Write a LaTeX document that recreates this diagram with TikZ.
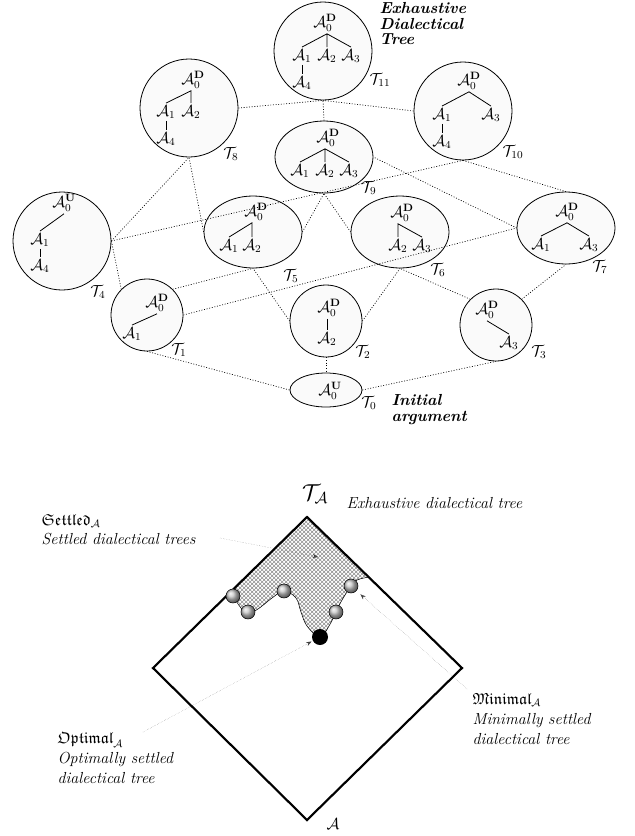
\documentclass[tikz,border=0pt,12pt]{standalone}
\usepackage{amsmath,amssymb}
\usetikzlibrary{arrows.meta,shapes.geometric,patterns}
\tikzset{tnode/.style={ellipse,draw,semithick,fill=black!2,inner sep=0pt},
  argm/.style={inner sep=1.5pt},
  tline/.style={semithick},
  lat/.style={line width=0.5pt,dash pattern=on 0.7pt off 1.3pt},
  lbl/.style={inner sep=1pt},
  ptr/.style={densely dotted,very thin,black!75,-{Stealth[length=4pt,width=3pt]}},
  sph/.style={circle,draw,thin,shading=ball,ball color=gray!45,minimum size=10.5pt,inner sep=0pt}}
\newcommand{\argA}[1]{$\mathcal{A}_{#1}$}
\newcommand{\rootD}{$\mathcal{A}_0^{\mathbf{D}}$}
\newcommand{\rootU}{$\mathcal{A}_0^{\mathbf{U}}$}
\begin{document}
\begin{tikzpicture}[x=0.75pt,y=-0.75pt]
\useasboundingbox (0,0) rectangle (635,836);
% lattice of dialectical trees
\foreach \n/\x/\y/\w/\h in {11/323/51/73.5/73.5, 8/189/108/73.5/73.5, 10/463/111/73.5/73.5,
  9/324/157/73.5/54, 4/62/241/73.5/73.5, 5/253/232/73.5/54, 6/400/232/73.5/54, 7/566/228/73.5/54,
  1/147/315/54/54, 2/326/321/54/54, 3/496/325/54/54, 0/326/390/54/25.5}
  \node[tnode,minimum width=\w pt,minimum height=\h pt] (t\n) at (\x,\y) {};
\foreach \n/\x/\y in {11/380/80, 8/231/154, 10/513/152, 9/369/188, 4/98/292, 5/291/276,
  6/438/270, 7/600/267, 1/179/350, 2/363/352, 3/539/352, 0/369/403}
  \node[lbl] (l\n) at (\x,\y) {$\mathcal{T}_{\n}$};
% T11
\node[argm] (t11r) at (325,23) {\rootD};
\node[argm] (t11a1) at (302,56) {\argA1}; \node[argm] (t11a2) at (327,56) {\argA2};
\node[argm] (t11a3) at (351,56) {\argA3}; \node[argm] (t11a4) at (302,83) {\argA4};
\draw[tline] (t11a1.north) -- (t11a2.north |- t11r.south) -- (t11a3.north) (t11a2.north |- t11r.south) -- (t11a2.north);
\draw[tline] (t11a1.south) -- (t11a4.north);
% T8
\node[argm] (t8r) at (193,80) {\rootD};
\node[argm] (t8a1) at (166,112) {\argA1}; \node[argm] (t8a2) at (191,112) {\argA2};
\node[argm] (t8a4) at (166,139) {\argA4};
\draw[tline] (t8a1.north) -- (t8a2.north |- t8r.south) -- (t8a2.north);
\draw[tline] (t8a1.south) -- (t8a4.north);
% T10
\node[argm] (t10r) at (469,81) {\rootD};
\node[argm] (t10a1) at (442,115) {\argA1}; \node[argm] (t10a3) at (491,115) {\argA3};
\node[argm] (t10a4) at (442,142) {\argA4};
\draw[tline] (t10a1.north) -- (t10r.south) -- (t10a3.north);
\draw[tline] (t10a1.south) -- (t10a4.north);
% T9
\node[argm] (t9r) at (328,138) {\rootD};
\node[argm] (t9a1) at (300,171) {\argA1}; \node[argm] (t9a2) at (325,171) {\argA2};
\node[argm] (t9a3) at (349,171) {\argA3};
\draw[tline] (t9a1.north) -- (t9a2.north |- t9r.south) -- (t9a3.north) (t9a2.north |- t9r.south) -- (t9a2.north);
% T4
\node[argm] (t4r) at (64,203) {\rootU};
\node[argm] (t4a1) at (40,240) {\argA1}; \node[argm] (t4a4) at (40,266) {\argA4};
\draw[tline] (t4a1.north) -- (t4r.south);
\draw[tline] (t4a1.south) -- (t4a4.north);
% T5, T6, T7
\node[argm] (t5r) at (256,212) {\rootD};
\node[argm] (t5a1) at (229,246) {\argA1}; \node[argm] (t5a2) at (252,246) {\argA2};
\draw[tline] (t5a1.north) -- (t5a2.north |- t5r.south) -- (t5a2.north);
\node[argm] (t6r) at (402,213) {\rootD};
\node[argm] (t6a2) at (398,246) {\argA2}; \node[argm] (t6a3) at (422,246) {\argA3};
\draw[tline] (t6a2.north) -- (t6a2.north |- t6r.south) -- (t6a3.north);
\node[argm] (t7r) at (567,212) {\rootD};
\node[argm] (t7a1) at (541,245) {\argA1}; \node[argm] (t7a3) at (589,245) {\argA3};
\draw[tline] (t7a1.north) -- (t7r.south) -- (t7a3.north);
% T1, T2, T3, T0
\node[argm] (t1r) at (157,303) {\rootD};
\node[argm] (t1a1) at (132,334) {\argA1};
\draw[tline] (t1a1.north) -- (t1r.south);
\node[argm] (t2r) at (329,308) {\rootD};
\node[argm] (t2a2) at (327,339) {\argA2};
\draw[tline] (t2a2.north |- t2r.south) -- (t2a2.north);
\node[argm] (t3r) at (487,310) {\rootD};
\node[argm] (t3a3) at (509,343) {\argA3};
\draw[tline] (t3r.south) -- (t3a3.north);
\node[argm] (t0r) at (330,391) {\rootU};
% subset links
\foreach \a/\b in {t1.south/t0.west, t2.south/t0.north, t0.east/t3.south,
  t1.north west/t4.east, t1.north east/t5.south, t1.east/t7.west,
  t2.west/t5.south, t2.east/t6.south, t3.north west/t6.south, t3.north east/t7.south,
  t4.east/t8.south, t4.east/t10.south, t5.west/t8.south, t5.east/t9.south,
  t6.west/t9.south, t7.west/t9.east, t7.north/t10.south,
  t8.east/t11.south, t9.north/t11.south, t10.west/t11.south}
  \draw[lat] (\a) -- (\b);
\node[lbl,align=left,anchor=north west,font=\bfseries\itshape] (exh) at (378,1) {Exhaustive\\[-3pt]Dialectical\\[-3pt]Tree};
\node[lbl,align=left,anchor=north west,font=\bfseries\itshape] (ini) at (390,393) {Initial\\[-3pt]argument};
% space of dialectical trees
\coordinate (top) at (307,517); \coordinate (lft) at (153,668);
\coordinate (rgt) at (462,668); \coordinate (bot) at (307,820);
\fill[pattern=crosshatch,pattern color=black!45] (top) -- (226,597)
  -- plot[smooth,tension=0.6] coordinates {(226,597) (233,596) (241,608) (248,613) (258,609) (272,598)
  (284,591) (296,598) (301,612) (307,626) (320,637) (329,626) (336,612) (342,600) (351,586) (357,580) (369,577)} -- cycle;
\draw[thin] plot[smooth,tension=0.6] coordinates {(233,596) (241,608) (248,613) (258,609) (272,598)
  (284,591) (296,598) (301,612) (307,626) (320,637) (329,626) (336,612) (342,600) (351,586) (357,580) (369,577)};
\draw[line width=1.6pt,line join=miter] (top) -- (rgt) -- (bot) -- (lft) -- cycle;
\foreach \n/\x/\y in {1/233/596, 2/248/612, 3/284/591, 4/336/612, 5/351/586}
  \node[sph] (b\n) at (\x,\y) {};
\node[circle,fill=black,minimum size=12pt,inner sep=0pt] (opt) at (320,637) {};
\node[lbl,font=\Large] (ta) at (315,494) {$\mathcal{T}_{\mathcal{A}}$};
\node[lbl,anchor=west,font=\itshape] (exht) at (345,503) {Exhaustive dialectical tree};
\node[lbl] (aa) at (333,824) {$\mathcal{A}$};
\node[lbl,anchor=west] (setl) at (40,521) {$\mathfrak{Settled}_{\mathcal{A}}$};
\node[lbl,anchor=west,font=\itshape] (sett) at (40,539) {Settled dialectical trees};
\node[lbl,anchor=west] (optl) at (56,740) {$\mathfrak{Optimal}_{\mathcal{A}}$};
\node[lbl,anchor=north west,align=left,font=\itshape] (optt) at (56,751) {Optimally settled\\dialectical tree};
\node[lbl,anchor=west] (minl) at (471,700) {$\mathfrak{Minimal}_{\mathcal{A}}$};
\node[lbl,anchor=north west,align=left,font=\itshape] (mint) at (471,712) {Minimally settled\\dialectical tree};
\coordinate (sfrom) at (220,538); \coordinate (sto) at (318,557);
\coordinate (ofrom) at (143,732); \coordinate (mfrom) at (467,689);
\draw[ptr] (sfrom) -- (sto);
\draw[ptr,shorten >=1pt] (ofrom) -- (opt);
\draw[ptr,shorten >=4pt] (mfrom) -- (b5);
\end{tikzpicture}
\end{document}
